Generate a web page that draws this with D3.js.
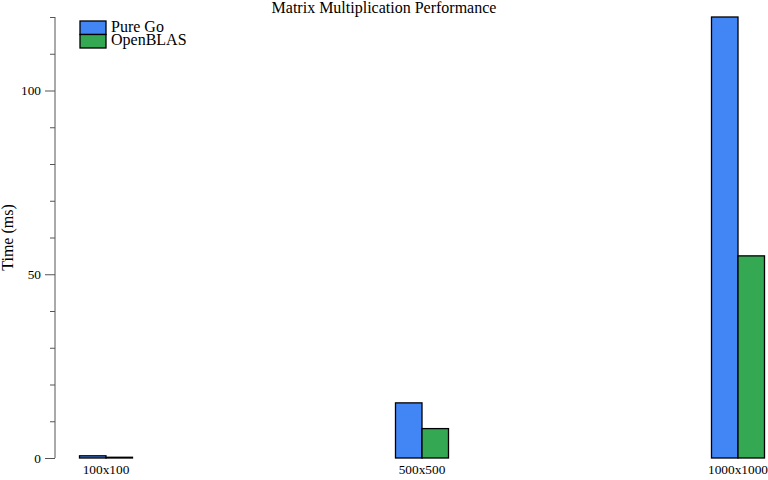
<!DOCTYPE html>
<html>
<head>
<meta charset="utf-8">
<script src="https://cdn.jsdelivr.net/npm/d3@7"></script>
<style>
  body { margin: 0; background: #fff; }
  text { font-family: "Liberation Serif", "Times New Roman", serif; fill: #000; }
</style>
</head>
<body>
<div id="viz"></div>
<script>
// chart data
const sizes = ["100x100", "500x500", "1000x1000"];
const pureGo = [0.6, 15, 120];
const openBLAS = [0.2, 8, 55];
const seriesNames = ["Pure Go", "OpenBLAS"];
const seriesColors = ["#4285F4", "#34A853"];
const majorTicks = [0, 50, 100];
const minorTicks = [10, 20, 30, 40, 60, 70, 80, 90, 110, 120];

const W = 768, H = 480;
const svg = d3.select("#viz").append("svg")
  .attr("width", W)
  .attr("height", H);

//scales
const x = d3.scaleLinear().domain([0, sizes.length - 1]).range([106, 738]);
const y = d3.scaleLinear().domain([0, d3.max(pureGo)]).range([458, 17]);
const barW = 26.5;

//title
svg.append("text")
  .attr("x", 384)
  .attr("y", 13)
  .attr("text-anchor", "middle")
  .style("font-size", "16px")
  .text("Matrix Multiplication Performance");

//y axis label
svg.append("text")
  .attr("transform", "translate(13," + (y.range()[0] + y.range()[1]) / 2 + ") rotate(-90)")
  .attr("text-anchor", "middle")
  .style("font-size", "16px")
  .text("Time (ms)");

//y axis (major ticks with labels)
const yAxis = svg.append("g")
  .attr("transform", "translate(55,0)")
  .call(d3.axisLeft(y).tickValues(majorTicks).tickSize(10).tickPadding(4).tickFormat(d3.format("d")));
yAxis.select(".domain").remove();
yAxis.selectAll(".tick line").attr("stroke", "#555");
yAxis.selectAll(".tick text")
  .style("font-size", "13.33px")
  .style("font-family", "Liberation Serif, serif")
  .attr("fill", "#000");

//minor ticks
svg.append("g")
  .attr("transform", "translate(55,0)")
  .call(d3.axisLeft(y).tickValues(minorTicks).tickSize(5).tickFormat(""))
  .call(g => g.select(".domain").remove())
  .selectAll(".tick line").attr("stroke", "#555");

//axis line
svg.append("line")
  .attr("x1", 55).attr("x2", 55)
  .attr("y1", y(0)).attr("y2", y(d3.max(pureGo)))
  .attr("stroke", "#555")
  .attr("stroke-width", 1);

//bars
const series = [pureGo, openBLAS];
series.forEach((vals, s) => {
  svg.selectAll("rect.s" + s)
    .data(vals)
    .enter()
    .append("rect")
    .attr("class", "s" + s)
    .attr("x", (d, i) => x(i) - barW + s * barW)
    .attr("y", d => y(d))
    .attr("width", barW)
    .attr("height", d => y(0) - y(d))
    .attr("fill", seriesColors[s])
    .attr("stroke", "#000")
    .attr("stroke-width", 1.3);
});

//category labels
svg.selectAll("text.cat")
  .data(sizes)
  .enter()
  .append("text")
  .attr("class", "cat")
  .attr("x", (d, i) => x(i))
  .attr("y", 474)
  .attr("text-anchor", "middle")
  .style("font-size", "13.33px")
  .text(d => d);

//legend
seriesNames.forEach((name, i) => {
  svg.append("rect")
    .attr("x", 80)
    .attr("y", 21 + i * 13.5)
    .attr("width", 26)
    .attr("height", 13.5)
    .attr("fill", seriesColors[i])
    .attr("stroke", "#000")
    .attr("stroke-width", 1.3);
  svg.append("text")
    .attr("x", 111)
    .attr("y", 31.5 + i * 13.5)
    .style("font-size", "16px")
    .text(name);
});
</script>
</body>
</html>
